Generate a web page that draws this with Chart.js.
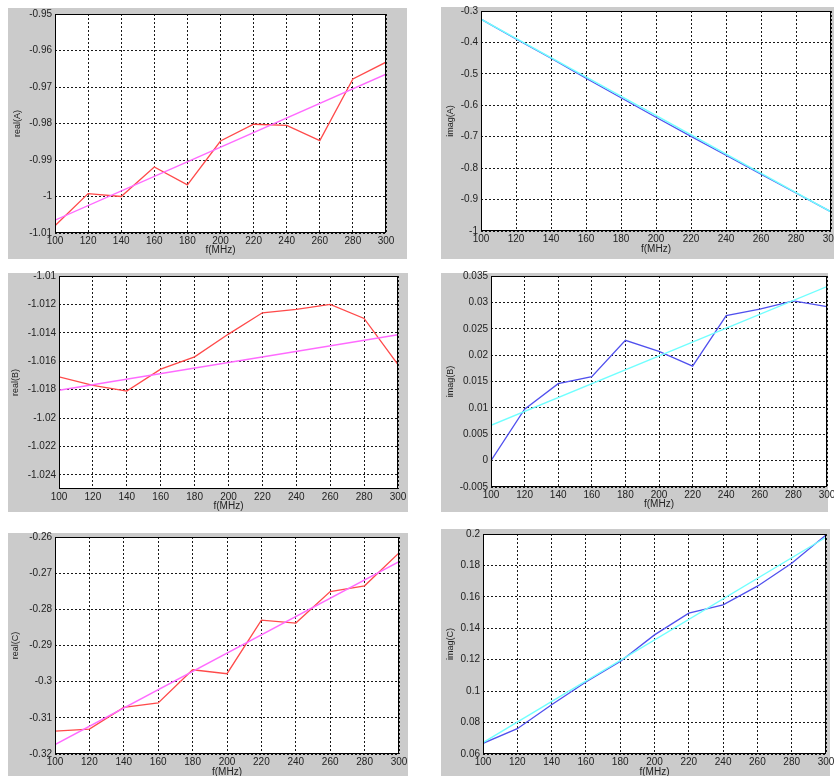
<!DOCTYPE html>
<html lang="en">
<head>
<meta charset="UTF-8">
<title>A, B, C versus frequency</title>
<script src="https://cdn.jsdelivr.net/npm/chart.js"></script>
<style>
    html, body {
        margin: 0;
        padding: 0;
        background: #fff;
        width: 834px;
        height: 776px;
        overflow: hidden;
        position: relative;
    }
    .panel {
        position: absolute;
        background: #cbcbcb;
    }
    canvas {
        position: absolute;
    }
</style>
</head>
<body>
<script>
    // frequency points (MHz)
    const freq = [100, 120, 140, 160, 180, 200, 220, 240, 260, 280, 300];
    const fitFreq = [100, 300];
    const xTicks = [100, 120, 140, 160, 180, 200, 220, 240, 260, 280, 300];

    // real(A)
    const realA = [-1.008, -0.9992, -1.0000, -0.9919, -0.9968, -0.9848, -0.9802, -0.9805, -0.9847, -0.9678, -0.9632];
    const realAFit = [-1.0065, -0.9665];
    const realATicks = [-1.01, -1, -0.99, -0.98, -0.97, -0.96, -0.95];

    // imag(A)
    const imagA = [-0.326, -0.389, -0.450, -0.514, -0.576, -0.638, -0.699, -0.759, -0.819, -0.879, -0.939];
    const imagAFit = [-0.326, -0.939];
    const imagATicks = [-1, -0.9, -0.8, -0.7, -0.6, -0.5, -0.4, -0.3];

    // real(B)
    const realB = [-1.0171, -1.0177, -1.0181, -1.01656, -1.01569, -1.01409, -1.01259, -1.01235, -1.0120, -1.01299, -1.01624];
    const realBFit = [-1.01805, -1.01414];
    const realBTicks = [-1.024, -1.022, -1.02, -1.018, -1.016, -1.014, -1.012, -1.01];

    // imag(B)
    const imagB = [0, 0.00975, 0.0146, 0.0159, 0.0228, 0.0207, 0.0179, 0.0275, 0.0287, 0.0303, 0.0292];
    const imagBFit = [0.0067, 0.033];
    const imagBTicks = [-0.005, 0, 0.005, 0.01, 0.015, 0.02, 0.025, 0.03, 0.035];

    // real(C)
    const realC = [-0.3137, -0.3131, -0.3071, -0.3059, -0.2967, -0.2978, -0.2830, -0.2838, -0.2751, -0.2735, -0.2644];
    const realCFit = [-0.3174, -0.2668];
    const realCTicks = [-0.32, -0.31, -0.3, -0.29, -0.28, -0.27, -0.26];

    // imag(C)
    const imagC = [0.0668, 0.0761, 0.0913, 0.1058, 0.1189, 0.1358, 0.1496, 0.1549, 0.1668, 0.1814, 0.1994];
    const imagCFit = [0.0672, 0.1979];
    const imagCTicks = [0.06, 0.08, 0.1, 0.12, 0.14, 0.16, 0.18, 0.2];

    const RED = '#ff4a4a', MAGENTA = '#ff6aff', BLUE = '#5050ee', CYAN = '#70ffff';

    // gray box [l, t, r, b], plot area [l, t, r, b], title offsets
    const panels = [
        { name: 'real(A)', data: realA, fit: realAFit, ticks: realATicks, min: -1.01, max: -0.95,
          line: RED, fitLine: MAGENTA, gray: [8, 8, 407, 259], plot: [55, 14, 386, 233], yt: 4.5, xt: 3 },
        { name: 'imag(A)', data: imagA, fit: imagAFit, ticks: imagATicks, min: -1, max: -0.3,
          line: BLUE, fitLine: CYAN, gray: [441, 7, 834, 259], plot: [481, 11, 831, 231], yt: 4, xt: 4 },
        { name: 'real(B)', data: realB, fit: realBFit, ticks: realBTicks, min: -1.025, max: -1.01,
          line: RED, fitLine: MAGENTA, gray: [8, 273, 408, 512], plot: [59, 276, 398, 489], yt: 2.5, xt: 0 },
        { name: 'imag(B)', data: imagB, fit: imagBFit, ticks: imagBTicks, min: -0.005, max: 0.035,
          line: BLUE, fitLine: CYAN, gray: [441, 273, 828, 512], plot: [491, 276, 827, 487], yt: 4, xt: 2 },
        { name: 'real(C)', data: realC, fit: realCFit, ticks: realCTicks, min: -0.32, max: -0.26,
          line: RED, fitLine: MAGENTA, gray: [8, 533, 408, 790], plot: [55, 537, 399, 754], yt: 2.5, xt: 12 },
        { name: 'imag(C)', data: imagC, fit: imagCFit, ticks: imagCTicks, min: 0.06, max: 0.2,
          line: BLUE, fitLine: CYAN, gray: [441, 529, 830, 790], plot: [483, 534, 826, 754], yt: 4, xt: 12 }
    ];

    const FONT = "'Liberation Sans', Arial, sans-serif";

    // white plot area + black axes box
    const frame = {
        id: 'frame',
        beforeDraw(chart) {
            const a = chart.chartArea, ctx = chart.ctx;
            ctx.save();
            ctx.fillStyle = '#fff';
            ctx.fillRect(a.left, a.top, a.right - a.left, a.bottom - a.top);
            ctx.restore();
        },
        afterDraw(chart) {
            const a = chart.chartArea, ctx = chart.ctx;
            ctx.save();
            ctx.setLineDash([]);
            ctx.strokeStyle = '#000';
            ctx.lineWidth = 1;
            ctx.strokeRect(Math.round(a.left) + 0.5, Math.round(a.top) + 0.5,
                Math.round(a.right - a.left) - 1, Math.round(a.bottom - a.top) - 1);
            ctx.restore();
        }
    };

    panels.forEach(p => {
        const [gl, gt, gr, gb] = p.gray;
        const [pl, pt, pr, pb] = p.plot;

        const box = document.createElement('div');
        box.className = 'panel';
        box.style.left = gl + 'px';
        box.style.top = gt + 'px';
        box.style.width = (gr - gl) + 'px';
        box.style.height = (gb - gt) + 'px';
        document.body.appendChild(box);

        const extraTop = 10, extraRight = 20;
        const cv = document.createElement('canvas');
        const w = pr - gl + extraRight, h = gb - gt + extraTop;
        cv.width = w;
        cv.height = h;
        cv.style.width = w + 'px';
        cv.style.height = h + 'px';
        cv.style.left = gl + 'px';
        cv.style.top = (gt - extraTop) + 'px';
        document.body.appendChild(cv);

        new Chart(cv.getContext('2d'), {
            type: 'line',
            data: {
                datasets: [
                    {
                        data: fitFreq.map((f, i) => ({ x: f, y: p.fit[i] })),
                        borderColor: p.fitLine,
                        borderWidth: 1.4
                    },
                    {
                        data: freq.map((f, i) => ({ x: f, y: p.data[i] })),
                        borderColor: p.line,
                        borderWidth: 1.3
                    }
                ]
            },
            options: {
                responsive: false,
                animation: false,
                devicePixelRatio: 1,
                layout: { padding: { top: pt - gt + extraTop, right: extraRight, left: 0, bottom: 0 } },
                elements: { point: { radius: 0 }, line: { tension: 0 } },
                plugins: { legend: { display: false }, tooltip: { enabled: false } },
                scales: {
                    x: {
                        type: 'linear',
                        min: 100,
                        max: 300,
                        afterBuildTicks: s => { s.ticks = xTicks.map(v => ({ value: v })); },
                        afterFit: s => { s.height = gb - pb; },
                        grid: { color: 'rgba(0,0,0,0.9)', lineWidth: 1, drawTicks: false },
                        border: { display: false, dash: [2, 2] },
                        ticks: {
                            padding: 2,
                            maxRotation: 0,
                            autoSkip: false,
                            color: '#222',
                            font: { family: FONT, size: 10 },
                            callback: v => String(v)
                        },
                        title: {
                            display: true,
                            text: 'f(MHz)',
                            color: '#222',
                            font: { family: FONT, size: 10 },
                            padding: { top: 0, bottom: p.xt }
                        }
                    },
                    y: {
                        type: 'linear',
                        min: p.min,
                        max: p.max,
                        afterBuildTicks: s => { s.ticks = p.ticks.map(v => ({ value: v })); },
                        afterFit: s => { s.width = pl - gl; },
                        grid: { color: 'rgba(0,0,0,0.9)', lineWidth: 1, drawTicks: false },
                        border: { display: false, dash: [2, 2] },
                        ticks: {
                            padding: 3,
                            autoSkip: false,
                            color: '#222',
                            font: { family: FONT, size: 10 },
                            callback: v => String(v)
                        },
                        title: {
                            display: true,
                            text: p.name,
                            color: '#222',
                            font: { family: FONT, size: 9 },
                            padding: { top: p.yt, bottom: 0 }
                        }
                    }
                }
            },
            plugins: [frame]
        });
    });
</script>
</body>
</html>
